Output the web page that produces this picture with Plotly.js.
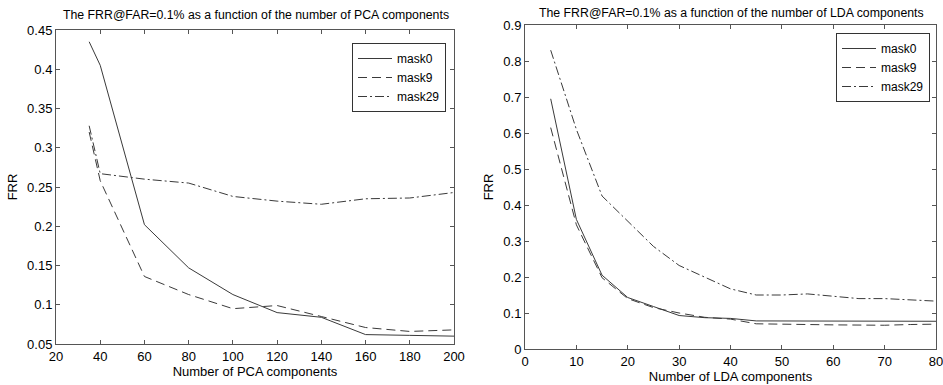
<!DOCTYPE html>
<html>
<head>
<meta charset="utf-8">
<script src="https://cdn.plot.ly/plotly-3.0.1.min.js"></script>
<style>html,body{margin:0;padding:0;background:#fff}#chart{width:943px;height:385px}</style>
</head>
<body>
<div id="chart"></div>
<script>
// PCA panel data
const pcaX = [35, 40, 60, 80, 100, 120, 140, 160, 180, 200];
const pcaMask0 = [0.435, 0.405, 0.202, 0.147, 0.113, 0.090, 0.084, 0.062, 0.061, 0.060];
const pcaMask9 = [0.320, 0.258, 0.136, 0.113, 0.095, 0.099, 0.085, 0.071, 0.066, 0.068];
const pcaMask29 = [0.328, 0.267, 0.260, 0.255, 0.238, 0.232, 0.228, 0.235, 0.236, 0.243];

// LDA panel data
const ldaX = [5, 10, 15, 20, 25, 30, 35, 40, 45, 50, 55, 60, 65, 70, 75, 80];
const ldaMask0 = [0.695, 0.360, 0.205, 0.143, 0.118, 0.093, 0.087, 0.085, 0.078, 0.078, 0.078, 0.077, 0.077, 0.077, 0.077, 0.077];
const ldaMask9 = [0.615, 0.345, 0.198, 0.140, 0.115, 0.100, 0.088, 0.083, 0.070, 0.068, 0.068, 0.067, 0.066, 0.066, 0.068, 0.069];
const ldaMask29 = [0.830, 0.610, 0.425, 0.355, 0.285, 0.232, 0.200, 0.167, 0.150, 0.150, 0.153, 0.147, 0.140, 0.140, 0.137, 0.133];

const seriesNames = ["mask0", "mask9", "mask29"];
const pcaTitle = "The FRR@FAR=0.1% as a function of the number of PCA components";
const ldaTitle = "The FRR@FAR=0.1% as a function of the number of LDA components";

const lineColor = "#3a3a3a";
const dashes = ["solid", "9px,5px", "9px,3px,2px,3px"];

function mk(x, y, i, xa, ya, leg) {
  return {x: x, y: y, name: seriesNames[i], type: "scatter", mode: "lines",
    xaxis: xa, yaxis: ya, legend: leg,
    line: {color: lineColor, width: 1, dash: dashes[i]}};
}

const traces = [
  mk(pcaX, pcaMask0, 0, "x", "y", "legend"),
  mk(pcaX, pcaMask9, 1, "x", "y", "legend"),
  mk(pcaX, pcaMask29, 2, "x", "y", "legend"),
  mk(ldaX, ldaMask0, 0, "x2", "y2", "legend2"),
  mk(ldaX, ldaMask9, 1, "x2", "y2", "legend2"),
  mk(ldaX, ldaMask29, 2, "x2", "y2", "legend2")
];

const fam = "Liberation Sans, Arial, sans-serif";
const font = {family: fam, size: 13, color: "#000"};
const axBase = {showgrid: false, zeroline: false, showline: true, linecolor: "#555", linewidth: 1,
  mirror: "ticks", ticks: "inside", ticklen: 4, tickcolor: "#555", automargin: false,
  ticklabeloverflow: "allow",
  tickfont: {family: fam, size: 13, color: "#000"}, fixedrange: true};

const legBase = {xanchor: "right", yanchor: "top", bgcolor: "#fff",
  bordercolor: "#333", borderwidth: 1, font: {family: fam, size: 12, color: "#000"},
  tracegroupgap: 0, itemwidth: 34};

const layout = {
  width: 943, height: 385,
  margin: {l: 0, r: 0, t: 0, b: 0},
  paper_bgcolor: "#fff", plot_bgcolor: "#fff",
  font: font,
  showlegend: true,
  xaxis: Object.assign({}, axBase, {domain: [56/943, 454/943], range: [20, 200], dtick: 20, tick0: 20,
    title: {text: "Number of PCA components", font: {size: 13}, standoff: 3}, anchor: "y"}),
  yaxis: Object.assign({}, axBase, {domain: [1-344/385, 1-30/385], range: [0.05, 0.45], dtick: 0.05, tick0: 0.05,
    title: {text: "FRR", font: {size: 13}, standoff: 6}, anchor: "x"}),
  xaxis2: Object.assign({}, axBase, {domain: [525/943, 936/943], range: [0, 80], dtick: 10, tick0: 0,
    title: {text: "Number of LDA components", font: {size: 13}, standoff: 3}, anchor: "y2"}),
  yaxis2: Object.assign({}, axBase, {domain: [1-349/385, 1-25/385], range: [0, 0.9], dtick: 0.1, tick0: 0,
    title: {text: "FRR", font: {size: 13}, standoff: 6}, anchor: "x2"}),
  legend: Object.assign({}, legBase, {x: 446/943, y: 1-43/385}),
  legend2: Object.assign({}, legBase, {x: 930/943, y: 1-33/385}),
  annotations: [
    {text: pcaTitle, xref: "paper", yref: "paper", x: 256/943, y: 1-15/385, xanchor: "center", yanchor: "middle",
      showarrow: false, font: {family: fam, size: 12.3, color: "#000"}},
    {text: ldaTitle, xref: "paper", yref: "paper", x: 731/943, y: 1-13/385, xanchor: "center", yanchor: "middle",
      showarrow: false, font: {family: fam, size: 12.3, color: "#000"}}
  ]
};

Plotly.newPlot("chart", traces, layout, {displayModeBar: false, staticPlot: true});
</script>
</body>
</html>
